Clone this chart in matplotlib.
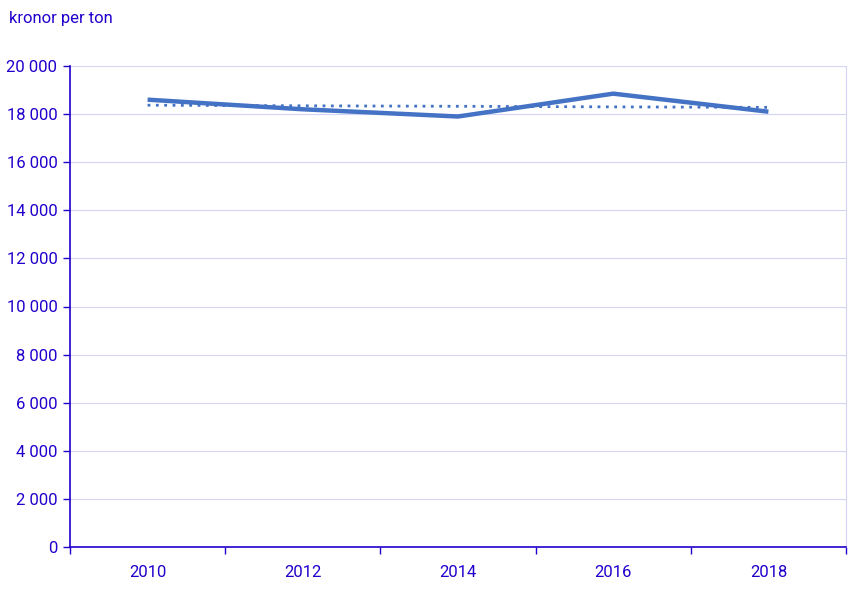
import matplotlib
matplotlib.use("Agg")
import matplotlib.pyplot as plt
from matplotlib.ticker import FuncFormatter, FixedLocator

plt.rcParams['font.family'] = ['Roboto', 'DejaVu Sans']

years = ["2010", "2012", "2014", "2016", "2018"]
price = [18600, 18200, 17900, 18850, 18100]
trend = [18370, 18345, 18325, 18300, 18280]

text_c = "#2200CC"
line_c = "#4472C4"
grid_c = "#D4D4F4"

fig = plt.figure(figsize=(8.54, 5.89), dpi=100)
ax = fig.add_axes([70/854, 42/589, 776/854, 481/589])

x = list(range(len(years)))
ax.plot(x, price, color=line_c, lw=3.2, solid_capstyle='butt', zorder=3)
ax.plot(x, trend, color=line_c, lw=2, linestyle=(0, (1, 2)), zorder=3)

ax.set_xlim(-0.5, len(years) - 0.5)
ax.set_ylim(0, 20000)
ax.set_yticks(range(0, 20001, 2000))
ax.yaxis.set_major_formatter(FuncFormatter(lambda v, p: f"{int(v):,}".replace(",", " ")))
ax.xaxis.set_major_locator(FixedLocator([i - 0.5 for i in range(len(years) + 1)]))
ax.set_xticklabels([])
ax.set_xticks(x, minor=True)
ax.set_xticklabels(years, minor=True)
ax.tick_params(axis='x', which='minor', length=0, pad=13, labelsize=12, labelcolor=text_c)
ax.tick_params(axis='x', which='major', length=5, color=text_c, width=1)
ax.tick_params(axis='y', length=5, color=text_c, width=1, labelsize=12, labelcolor=text_c, pad=4)

ax.grid(axis='y', color=grid_c, lw=0.8)
ax.spines['top'].set_visible(False)
ax.spines['right'].set_color(grid_c)
ax.spines['right'].set_linewidth(0.8)
ax.spines['left'].set_color(text_c)
ax.spines['bottom'].set_color(text_c)
ax.spines['left'].set_linewidth(1.2)
ax.spines['bottom'].set_linewidth(1.2)

fig.text(9/854, 1 - 19/589, "kronor per ton", color=text_c, fontsize=12, va='center', ha='left')

fig.savefig("out.png", dpi=100)
